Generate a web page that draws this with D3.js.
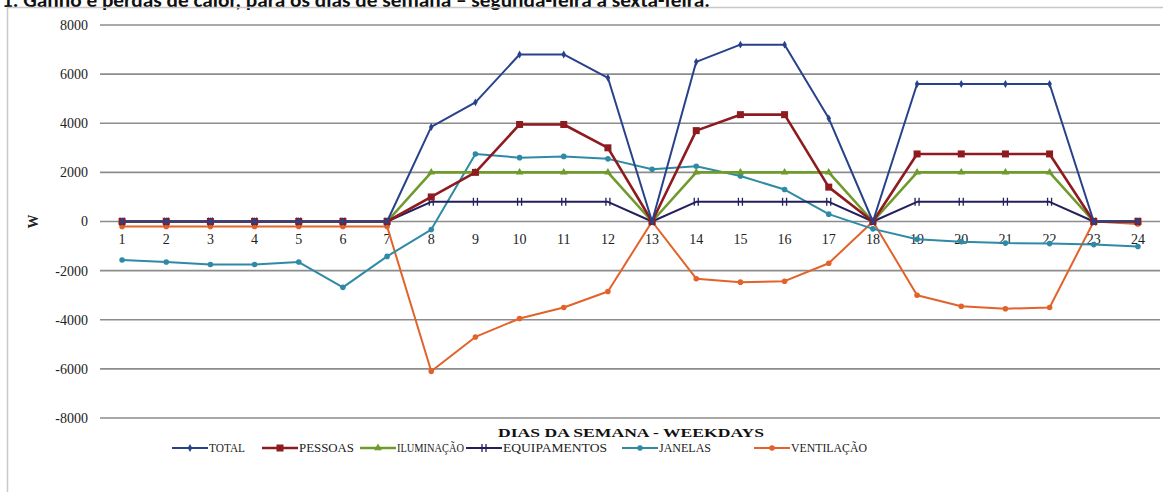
<!DOCTYPE html>
<html>
<head>
<meta charset="utf-8">
<script src="https://cdn.jsdelivr.net/npm/d3@7"></script>
<style>
  html, body { margin: 0; padding: 0; background: #fff; }
  svg { display: block; }
</style>
</head>
<body>
<svg id="chart" width="1163" height="492"></svg>
<script>
// Hours of the day (category axis)
const hours = d3.range(1, 25);
const yTicks = [8000, 6000, 4000, 2000, 0, -2000, -4000, -6000, -8000];

// Heat gains / losses per hour, in W
const total =        [0,0,0,0,0,0,0, 3850,4850,6800,6800,5850, 0, 6500,7200,7200,4200, 0, 5600,5600,5600,5600, 0, 0];
const pessoas =      [0,0,0,0,0,0,0, 1000,2000,3950,3950,3000, 0, 3700,4350,4350,1400, 0, 2750,2750,2750,2750, 0, 0];
const iluminacao =   [0,0,0,0,0,0,0, 2000,2000,2000,2000,2000, 0, 2000,2000,2000,2000, 0, 2000,2000,2000,2000, 0, 0];
const equipamentos = [0,0,0,0,0,0,0, 800,800,800,800,800, 0, 800,800,800,800, 0, 800,800,800,800, 0, 0];
const janelas =      [-1570,-1650,-1750,-1750,-1650,-2680,-1420, -330,2750,2600,2650,2550, 2130, 2250,1850,1300,300, -300, -720,-820,-880,-900,-940,-1020];
const ventilacao =   [-200,-200,-200,-200,-200,-200,-200, -6100,-4700,-3950,-3500,-2850, 0, -2330,-2470,-2430,-1700, 0, -3000,-3450,-3550,-3500, 0, -100];

const seriesNames = ["TOTAL", "PESSOAS", "ILUMINAÇÃO", "EQUIPAMENTOS", "JANELAS", "VENTILAÇÃO"];
const seriesValues = [total, pessoas, iluminacao, equipamentos, janelas, ventilacao];

const styles = [
  { color: "#27428a", marker: "diamond", width: 2 },
  { color: "#8e1b1f", marker: "square",  width: 2.6 },
  { color: "#6f9a2c", marker: "triangle", width: 2.6 },
  { color: "#231f5c", marker: "cross",   width: 2 },
  { color: "#2f8aa6", marker: "circle",  width: 2 },
  { color: "#e2622a", marker: "circle",  width: 2 }
];

const svg = d3.select("#chart");
const serif = "'Liberation Serif', 'Times New Roman', serif";

// Heading, partly cut by the top edge
svg.append("text")
  .attr("x", 2).attr("y", 7)
  .attr("font-family", "Carlito, 'Liberation Sans', Arial, sans-serif")
  .attr("font-weight", "bold").attr("font-size", 20).attr("fill", "#111")
  .attr("textLength", 708).attr("lengthAdjust", "spacingAndGlyphs")
  .text("1. Ganho e perdas de calor, para os dias de semana – segunda-feira a sexta-feira.");

// Chart frame
svg.append("path")
  .attr("d", "M7.5,492 V7.5 H1163")
  .attr("fill", "none").attr("stroke", "#c8c8c8").attr("stroke-width", 1.5);

const x = d3.scaleBand().domain(hours).range([100, 1160]);
const cx = h => x(h) + x.bandwidth() / 2;
const y = d3.scaleLinear().domain([-8000, 8000]).range([418, 25]);

// Horizontal grid lines
svg.append("g").selectAll("line").data(yTicks).join("line")
  .attr("x1", 100).attr("x2", 1160)
  .attr("y1", d => y(d)).attr("y2", d => y(d))
  .attr("stroke", "#8c8c8c").attr("stroke-width", 1.6);

// Y axis
const yAxis = svg.append("g")
  .attr("transform", "translate(88,0)")
  .call(d3.axisLeft(y).tickValues(yTicks).tickSize(0).tickPadding(0).tickFormat(d => String(d)));
yAxis.select(".domain").remove();
yAxis.selectAll("text")
  .attr("font-family", serif).attr("font-size", 14).attr("fill", "#222");

svg.append("text")
  .attr("transform", `translate(35,${y(0)}) rotate(-90)`)
  .attr("text-anchor", "middle").attr("dominant-baseline", "middle")
  .attr("font-family", serif).attr("font-weight", "bold").attr("font-size", 14).attr("fill", "#222")
  .text("W");

// X axis, labels placed just under the zero line
const xAxis = svg.append("g")
  .attr("transform", `translate(0,${y(0) + 13})`)
  .call(d3.axisBottom(x).tickSize(0).tickPadding(0));
xAxis.select(".domain").remove();
xAxis.selectAll("text")
  .attr("font-family", serif).attr("font-size", 14).attr("fill", "#222");

svg.append("text")
  .attr("x", 631).attr("y", 437)
  .attr("text-anchor", "middle")
  .attr("font-family", serif).attr("font-weight", "bold").attr("font-size", 13).attr("fill", "#111")
  .attr("textLength", 266).attr("lengthAdjust", "spacingAndGlyphs")
  .text("DIAS DA SEMANA - WEEKDAYS");

// Marker drawing
function drawMarker(g, kind, color, px, py) {
  if (kind === "diamond") {
    g.append("path").attr("d", d3.symbol(d3.symbolDiamond, 18)()).attr("transform", `translate(${px},${py})`).attr("fill", color);
  } else if (kind === "square") {
    g.append("rect").attr("x", px - 3.5).attr("y", py - 3.5).attr("width", 7).attr("height", 7).attr("fill", color);
  } else if (kind === "triangle") {
    g.append("path").attr("d", d3.symbol(d3.symbolTriangle, 26)()).attr("transform", `translate(${px},${py})`).attr("fill", color);
  } else if (kind === "cross") {
    g.append("path").attr("d", `M${px - 2},${py - 4}V${py + 4}M${px + 2},${py - 4}V${py + 4}`)
      .attr("stroke", color).attr("stroke-width", 1.3).attr("fill", "none");
  } else {
    g.append("circle").attr("cx", px).attr("cy", py).attr("r", 2.8).attr("fill", color);
  }
}

const line = d3.line().x((d, i) => cx(hours[i])).y(d => y(d));

// Draw back to front so the total sits on top
const order = [5, 4, 3, 2, 1, 0];
order.forEach(si => {
  const st = styles[si];
  const g = svg.append("g");
  g.append("path").datum(seriesValues[si])
    .attr("d", line).attr("fill", "none")
    .attr("stroke", st.color).attr("stroke-width", st.width).attr("stroke-linejoin", "round");
  seriesValues[si].forEach((v, i) => drawMarker(g, st.marker, st.color, cx(hours[i]), y(v)));
});

// Legend
const legendX = [172, 262, 360, 466, 622, 754];
const legendTextW = [36, 55, 67, 104, 52, 76];
const legendY = 448;
seriesNames.forEach((name, si) => {
  const st = styles[si];
  const g = svg.append("g");
  g.append("line").attr("x1", legendX[si]).attr("x2", legendX[si] + 36)
    .attr("y1", legendY).attr("y2", legendY)
    .attr("stroke", st.color).attr("stroke-width", st.width);
  drawMarker(g, st.marker, st.color, legendX[si] + 18, legendY);
  g.append("text").attr("x", legendX[si] + 37).attr("y", legendY + 4)
    .attr("font-family", serif).attr("font-size", 12).attr("fill", "#222")
    .attr("textLength", legendTextW[si]).attr("lengthAdjust", "spacingAndGlyphs")
    .text(name);
});
</script>
</body>
</html>
